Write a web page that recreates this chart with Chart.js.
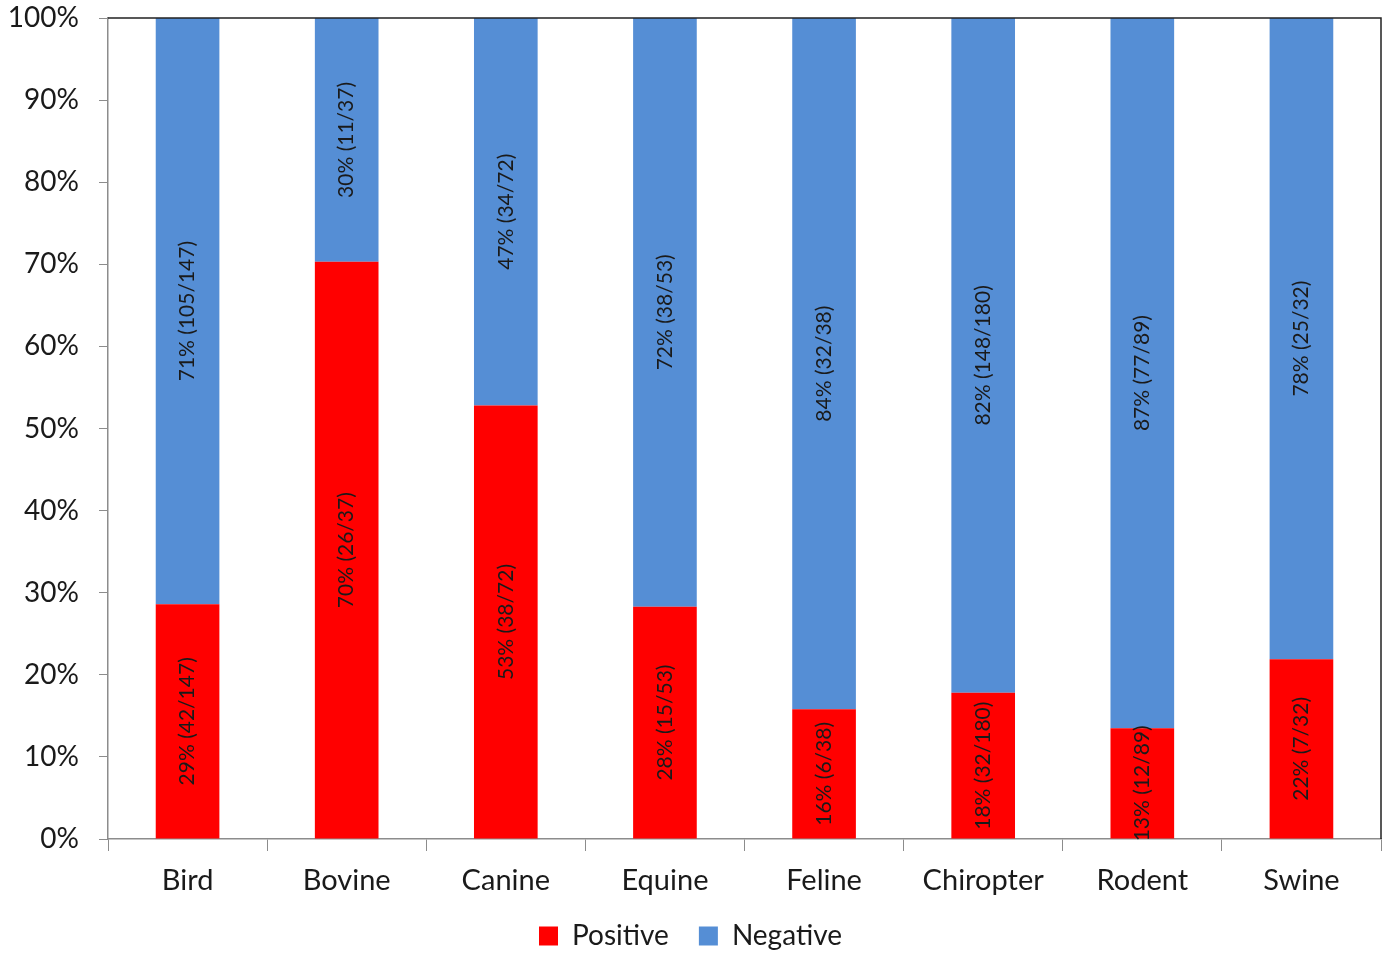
<!DOCTYPE html>
<html>
<head>
<meta charset="utf-8">
<script src="https://cdn.jsdelivr.net/npm/chart.js@4"></script>
<style>
  html, body { margin: 0; padding: 0; background: #fff; }
  #wrap { width: 1386px; height: 953px; }
</style>
</head>
<body>
<div id="wrap"><canvas id="myChart"></canvas></div>
<script>
const categories = ['Bird', 'Bovine', 'Canine', 'Equine', 'Feline', 'Chiropter', 'Rodent', 'Swine'];
const positiveValues = [28.6, 70.3, 52.8, 28.3, 15.8, 17.8, 13.5, 21.9];
const negativeValues = [71.4, 29.7, 47.2, 71.7, 84.2, 82.2, 86.5, 78.1];
const positiveLabels = ['29% (42/147)', '70% (26/37)', '53% (38/72)', '28% (15/53)', '16% (6/38)', '18% (32/180)', '13% (12/89)', '22% (7/32)'];
const negativeLabels = ['71% (105/147)', '30% (11/37)', '47% (34/72)', '72% (38/53)', '84% (32/38)', '82% (148/180)', '87% (77/89)', '78% (25/32)'];
const yTicks = [0, 10, 20, 30, 40, 50, 60, 70, 80, 90, 100];

const fontFamily = "Lato, 'Open Sans', sans-serif";

// rotated labels in the middle of each bar segment
const barLabels = {
    id: 'barLabels',
    afterDatasetsDraw(chart) {
        const ctx = chart.ctx;
        const texts = [positiveLabels, negativeLabels];
        ctx.save();
        ctx.font = '21px ' + fontFamily;
        ctx.fillStyle = '#1a1a1a';
        ctx.textAlign = 'center';
        ctx.textBaseline = 'middle';
        chart.data.datasets.forEach((ds, i) => {
            chart.getDatasetMeta(i).data.forEach((bar, j) => {
                const cy = (bar.y + bar.base) / 2;
                ctx.save();
                ctx.translate(bar.x, cy);
                ctx.rotate(-Math.PI / 2);
                ctx.fillText(texts[i][j], 0, 0);
                ctx.restore();
            });
        });
        ctx.restore();
    }
};

// top and right frame lines
const frame = {
    id: 'frame',
    afterLayout(chart) {
        // let the category labels reach below the (short) x axis box
        chart.scales.x.bottom = chart.height;
    },
    afterDraw(chart) {
        const { ctx, chartArea: a } = chart;
        ctx.save();
        ctx.strokeStyle = '#222';
        ctx.lineWidth = 1.5;
        ctx.beginPath();
        ctx.moveTo(a.left, a.top);
        ctx.lineTo(a.right, a.top);
        ctx.lineTo(a.right, a.bottom);
        ctx.stroke();
        ctx.restore();
    }
};

const ctx = document.getElementById('myChart').getContext('2d');

new Chart(ctx, {
    type: 'bar',
    data: {
        labels: categories,
        datasets: [{
            label: 'Positive',
            data: positiveValues,
            backgroundColor: '#ff0000',
            borderWidth: 0,
            barPercentage: 0.4,
            categoryPercentage: 1.0
        }, {
            label: 'Negative',
            data: negativeValues,
            backgroundColor: '#558ed5',
            borderWidth: 0,
            barPercentage: 0.4,
            categoryPercentage: 1.0
        }]
    },
    options: {
        responsive: true,
        maintainAspectRatio: false,
        animation: false,
        layout: { padding: { top: 18, right: 5, left: 0, bottom: -7 } },
        plugins: {
            legend: {
                position: 'bottom',
                labels: {
                    font: { family: fontFamily, size: 28 },
                    color: '#1a1a1a',
                    boxWidth: 19,
                    boxHeight: 19,
                    padding: 30
                }
            },
            tooltip: { enabled: false }
        },
        scales: {
            x: {
                stacked: true,
                grid: {
                    offset: true,
                    drawOnChartArea: false,
                    tickLength: 12,
                    color: '#8c8c8c'
                },
                border: { color: '#8c8c8c', width: 1.5 },
                ticks: {
                    font: { family: fontFamily, size: 29 },
                    color: '#1a1a1a',
                    padding: 12
                },
                afterFit(scale) { scale.height = 53; }
            },
            y: {
                stacked: true,
                min: 0,
                max: 100,
                afterBuildTicks(scale) {
                    scale.ticks = yTicks.map(v => ({ value: v }));
                },
                grid: {
                    drawOnChartArea: false,
                    tickLength: 9,
                    color: '#8c8c8c'
                },
                border: { color: '#8c8c8c', width: 1.5 },
                ticks: {
                    font: { family: fontFamily, size: 28 },
                    color: '#1a1a1a',
                    padding: 20,
                    callback: v => v + '%'
                },
                afterFit(scale) {
                    scale.width = 108;
                    scale.paddingTop = 0;
                    scale.paddingBottom = 0;
                }
            }
        }
    },
    plugins: [barLabels, frame]
});
</script>
</body>
</html>
